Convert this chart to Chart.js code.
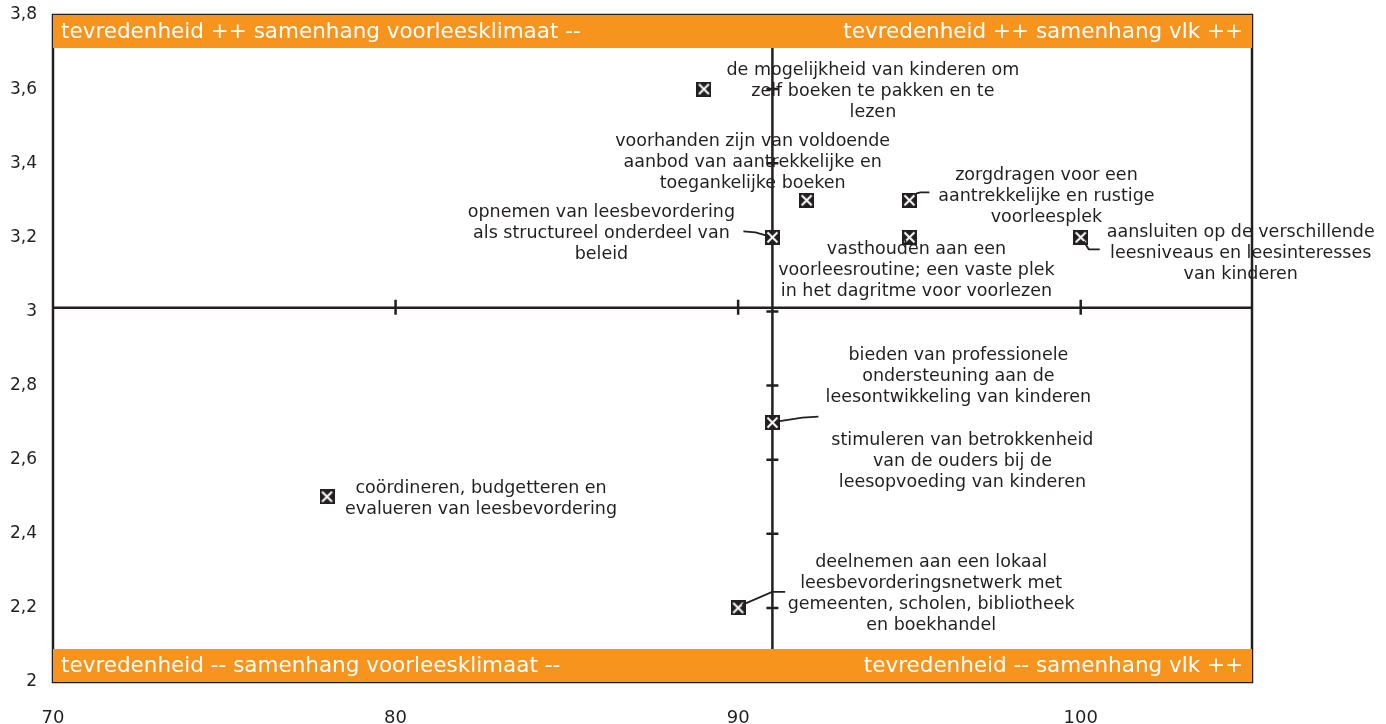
<!DOCTYPE html>
<html>
<head>
<meta charset="utf-8">
<script src="https://cdn.jsdelivr.net/npm/chart.js@4"></script>
<style>
  body { margin: 0; background: #fff; }
  #chart { display: block; }
</style>
</head>
<body>
<canvas id="chart" width="1386" height="724"></canvas>
<script>
// samenhang voorleesklimaat (x) en tevredenheid (y) per aspect
const samenhang = [89, 92, 91, 95, 95, 100, 91, 91, 78, 90];
const tevredenheid = [3.6, 3.3, 3.2, 3.3, 3.2, 3.2, 2.7, 2.7, 2.5, 2.2];
const aspecten = [
  ['de mogelijkheid van kinderen om', 'zelf boeken te pakken en te', 'lezen'],
  ['voorhanden zijn van voldoende', 'aanbod van aantrekkelijke en', 'toegankelijke boeken'],
  ['opnemen van leesbevordering', 'als structureel onderdeel van', 'beleid'],
  ['zorgdragen voor een', 'aantrekkelijke en rustige', 'voorleesplek'],
  ['vasthouden aan een', 'voorleesroutine; een vaste plek', 'in het dagritme voor voorlezen'],
  ['aansluiten op de verschillende', 'leesniveaus en leesinteresses', 'van kinderen'],
  ['bieden van professionele', 'ondersteuning aan de', 'leesontwikkeling van kinderen'],
  ['stimuleren van betrokkenheid', 'van de ouders bij de', 'leesopvoeding van kinderen'],
  ['coördineren, budgetteren en', 'evalueren van leesbevordering'],
  ['deelnemen aan een lokaal', 'leesbevorderingsnetwerk met', 'gemeenten, scholen, bibliotheek', 'en boekhandel']
];
const xTicks = [70, 80, 90, 100];
const yTicks = [2, 2.2, 2.4, 2.6, 2.8, 3, 3.2, 3.4, 3.6, 3.8];
const crossX = 91;
const crossY = 3.01;
const kwadranten = {
  linksBoven: 'tevredenheid ++ samenhang voorleesklimaat --',
  rechtsBoven: 'tevredenheid ++ samenhang vlk ++',
  linksOnder: 'tevredenheid -- samenhang voorleesklimaat --',
  rechtsOnder: 'tevredenheid -- samenhang vlk ++'
};

// label placement (offset of first text line from the point) and leader lines
const labelOffsets = [[169, -19], [-54, -59], [-171, -25], [137, -25], [7, 12],
  [160, -5], [186, -67], [190, 18], [154, -8], [193, -45]];
const leaders = [null, null, [[-29, -6], [-17, -5], [-3, -1]], [[7, -7], [11, -8], [20, -8]], null,
  [[3, 4], [8, 12], [19, 12]], [[4, -1], [30, -5], [46, -6]], null, null, [[4, -3], [34, -16], [47, -16]]];

const ink = '#231f20';
const oranje = '#f7941e';
const font = '"DejaVu Sans", Verdana, sans-serif';

// square marker with a white cross
const marker = document.createElement('canvas');
marker.width = 15; marker.height = 15;
(function () {
  const m = marker.getContext('2d');
  m.fillStyle = ink;
  m.fillRect(0, 0, 15, 15);
  m.strokeStyle = '#fff';
  m.lineWidth = 2;
  m.beginPath();
  m.moveTo(2.5, 2.5); m.lineTo(12.5, 12.5);
  m.moveTo(12.5, 2.5); m.lineTo(2.5, 12.5);
  m.stroke();
})();

const kwadrantPlugin = {
  id: 'kwadrant',
  beforeDatasetsDraw(chart) {
    const { ctx, chartArea: a, scales: { x, y } } = chart;
    ctx.save();
    ctx.strokeStyle = ink;
    ctx.lineWidth = 2.5;
    // frame
    ctx.strokeRect(a.left, a.top, a.right - a.left, a.bottom - a.top);
    // cross axes
    const cx = x.getPixelForValue(crossX);
    const cy = y.getPixelForValue(crossY);
    ctx.beginPath();
    ctx.moveTo(cx, a.top); ctx.lineTo(cx, a.bottom);
    ctx.moveTo(a.left, cy); ctx.lineTo(a.right, cy);
    yTicks.slice(1, -1).forEach(v => {
      const py = y.getPixelForValue(v);
      ctx.moveTo(cx - 6, py); ctx.lineTo(cx + 6, py);
    });
    xTicks.slice(1).forEach(v => {
      const px = x.getPixelForValue(v);
      ctx.moveTo(px, cy - 8); ctx.lineTo(px, cy + 7);
    });
    ctx.stroke();
    // orange bands
    const h = 33;
    ctx.fillStyle = oranje;
    ctx.fillRect(a.left, a.top, a.right - a.left, h);
    ctx.fillRect(a.left, a.bottom - h, a.right - a.left, h);
    ctx.fillStyle = '#fff';
    ctx.font = '21.5px ' + font;
    ctx.textBaseline = 'middle';
    ctx.textAlign = 'left';
    ctx.fillText(kwadranten.linksBoven, a.left + 8, a.top + h / 2 + 1);
    ctx.fillText(kwadranten.linksOnder, a.left + 8, a.bottom - h / 2 + 1);
    ctx.textAlign = 'right';
    ctx.fillText(kwadranten.rechtsBoven, a.right - 9, a.top + h / 2 + 1);
    ctx.fillText(kwadranten.rechtsOnder, a.right - 9, a.bottom - h / 2 + 1);
    ctx.restore();
  },
  afterDatasetsDraw(chart) {
    const { ctx } = chart;
    const pts = chart.getDatasetMeta(0).data;
    ctx.save();
    ctx.fillStyle = ink;
    ctx.strokeStyle = ink;
    ctx.lineWidth = 1.8;
    ctx.font = '17.5px ' + font;
    ctx.textAlign = 'center';
    ctx.textBaseline = 'middle';
    pts.forEach((p, i) => {
      const [dx, dy] = labelOffsets[i];
      aspecten[i].forEach((line, j) => ctx.fillText(line, p.x + dx, p.y + dy + j * 21));
      if (leaders[i]) {
        ctx.beginPath();
        leaders[i].forEach(([lx, ly], k) => {
          if (k === 0) ctx.moveTo(p.x + lx, p.y + ly); else ctx.lineTo(p.x + lx, p.y + ly);
        });
        ctx.stroke();
      }
    });
    ctx.restore();
  }
};

new Chart(document.getElementById('chart'), {
  type: 'scatter',
  data: {
    datasets: [{
      data: samenhang.map((v, i) => ({ x: v, y: tevredenheid[i] })),
      pointStyle: marker,
      pointRadius: 7,
      pointHoverRadius: 7
    }]
  },
  options: {
    responsive: false,
    animation: false,
    layout: { padding: { top: 15, right: 134, left: 0, bottom: 0 } },
    plugins: { legend: { display: false }, tooltip: { enabled: false } },
    scales: {
      x: {
        type: 'linear',
        min: 70,
        max: 105,
        grid: { display: false },
        border: { display: false },
        afterBuildTicks: s => { s.ticks = xTicks.map(v => ({ value: v })); },
        afterFit: s => { s.height = 42; s.paddingLeft = 0; s.paddingRight = 0; },
        ticks: { color: ink, font: { family: font, size: 18 }, padding: 18, maxRotation: 0 }
      },
      y: {
        min: 2,
        max: 3.8,
        grid: { display: false },
        border: { display: false },
        afterBuildTicks: s => { s.ticks = yTicks.map(v => ({ value: v })); },
        afterFit: s => { s.width = 53; s.paddingTop = 0; s.paddingBottom = 0; },
        ticks: {
          color: ink,
          font: { family: font, size: 17 },
          padding: 8,
          callback: v => String(Math.round(v * 10) / 10).replace('.', ',')
        }
      }
    }
  },
  plugins: [kwadrantPlugin]
});
</script>
</body>
</html>
